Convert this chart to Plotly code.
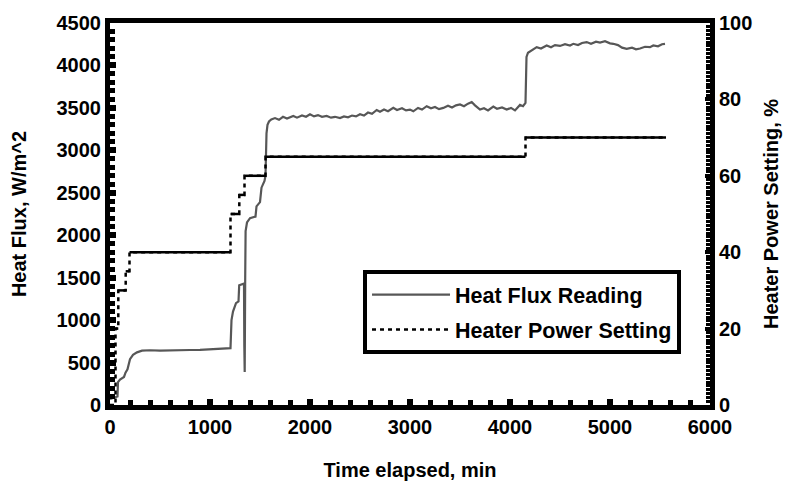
import plotly.graph_objects as go

# ---- data ----
flux_t = [0, 30, 60, 75, 80, 100, 140, 155, 175, 185, 200, 230, 270, 320, 400, 500, 600, 700, 800, 900,
          1000, 1100, 1190, 1205, 1215, 1230, 1260, 1285, 1292, 1340, 1343, 1347, 1352, 1356, 1370, 1400,
          1455, 1465, 1500, 1515, 1545, 1555, 1565, 1575, 1590, 1613, 1650, 1690, 1730, 1770, 1833, 1870,
          1920, 1960, 2000, 2040, 2080, 2120, 2167, 2210, 2250, 2300, 2340, 2380, 2420, 2460, 2500, 2540,
          2580, 2620, 2667, 2700, 2740, 2780, 2833, 2870, 2920, 2960, 3000, 3033, 3080, 3120, 3167, 3210,
          3250, 3290, 3333, 3380, 3420, 3460, 3500, 3540, 3580, 3617, 3650, 3700, 3740, 3780, 3833, 3870,
          3920, 3967, 4010, 4050, 4100, 4130, 4155, 4165, 4180, 4220, 4267, 4310, 4367, 4410, 4450, 4500,
          4550, 4600, 4633, 4680, 4720, 4767, 4810, 4860, 4900, 4950, 5000, 5033, 5080, 5120, 5167, 5220,
          5260, 5300, 5350, 5400, 5433, 5480, 5520, 5550]
flux_q = [70, 80, 90, 100, 270, 300, 330, 380, 420, 480, 540, 590, 620, 640, 645, 640, 645, 645, 648, 650,
          655, 660, 665, 670, 1000, 1100, 1200, 1220, 1410, 1430, 700, 390, 1500, 2050, 2150, 2200,
          2220, 2340, 2390, 2560, 2640, 2700, 3200, 3300, 3340, 3364, 3380, 3360, 3395, 3375, 3405, 3385,
          3410, 3395, 3425, 3400, 3415, 3395, 3405, 3385, 3395, 3380, 3400, 3390, 3410, 3400, 3425, 3410,
          3445, 3430, 3475, 3455, 3480, 3460, 3500, 3475, 3495, 3470, 3480, 3460, 3500, 3480, 3520, 3495,
          3510, 3485, 3500, 3525, 3505, 3530, 3540, 3520, 3550, 3570, 3530, 3480, 3495, 3470, 3515, 3490,
          3505, 3480, 3500, 3470, 3535, 3520, 3560, 4100, 4150, 4180, 4215, 4200, 4235, 4215, 4240, 4230,
          4250, 4235, 4255, 4240, 4265, 4275, 4255, 4280, 4270, 4285, 4260, 4255, 4240, 4210, 4196, 4210,
          4190, 4200, 4220, 4215, 4235, 4225, 4250, 4255]

heater_t = [0, 55, 83, 157, 195, 1205, 1293, 1345, 1555, 4155]
heater_pct = [0, 20, 30, 35, 40, 50, 55, 60, 65, 70]
heater_end = 5560

# step path (for the dashed series)
step_x = heater_t + [heater_end]
step_y = heater_pct + [heater_pct[-1]]

# horizontal plateaus drawn solid (as in the reference)
flat_x, flat_y = [], []
ends = heater_t[1:] + [heater_end]
for t0, t1, p in zip(heater_t, ends, heater_pct):
    if p > 0:
        flat_x += [t0, t1, None]
        flat_y += [p, p, None]

FONT = "Liberation Sans"
fig = go.Figure()
fig.add_trace(go.Scatter(x=flux_t, y=flux_q, mode="lines", name="Heat Flux Reading",
                         line=dict(color="#575757", width=2.2), legendgroup="a"))
fig.add_trace(go.Scatter(x=step_x, y=step_y, mode="lines", name="Heater Power Setting",
                         line=dict(color="black", width=2.5, dash="4px,4px", shape="hv"),
                         yaxis="y2", legendgroup="b"))
fig.add_trace(go.Scatter(x=flat_x, y=flat_y, mode="lines", showlegend=False,
                         line=dict(color="black", width=2.5), yaxis="y2", hoverinfo="skip"))

tick_font = dict(family=FONT, size=20, color="black", weight="bold")
title_font = dict(family=FONT, size=20, color="black", weight="bold")

fig.update_layout(
    width=795, height=493,
    margin=dict(l=110, r=85, t=17, b=88),
    plot_bgcolor="white", paper_bgcolor="white",
    showlegend=True,
    legend=dict(x=0.4217, y=0.353, xanchor="left", yanchor="top",
                bordercolor="black", borderwidth=4, bgcolor="white",
                font=dict(family=FONT, size=21.5, color="black", weight="bold"),
                traceorder="grouped", tracegroupgap=4, itemwidth=78),
    xaxis=dict(range=[0, 6000], dtick=1000, tick0=0, showgrid=False, zeroline=False,
               showline=True, linecolor="black", linewidth=5, mirror=True,
               ticks="inside", ticklen=6, tickwidth=6, tickcolor="black",
               minor=dict(dtick=200, ticks="inside", ticklen=5, tickwidth=5, tickcolor="black"),
               tickfont=tick_font,
               title=dict(text="Time elapsed, min", font=title_font, standoff=27)),
    yaxis=dict(range=[0, 4500], dtick=500, tick0=0, showgrid=False, zeroline=False,
               showline=True, linecolor="black", linewidth=5,
               ticks="inside", ticklen=6, tickwidth=6, tickcolor="black",
               minor=dict(dtick=100, ticks="inside", ticklen=5, tickwidth=5, tickcolor="black"),
               tickfont=tick_font,
               title=dict(text="Heat Flux, W/m^2", font=title_font, standoff=26)),
    yaxis2=dict(range=[0, 100], dtick=20, tick0=0, overlaying="y", side="right",
                showgrid=False, zeroline=False,
                showline=True, linecolor="black", linewidth=5,
                ticks="inside", ticklen=5, tickwidth=4, tickcolor="black",
                minor=dict(dtick=1, ticks="inside", ticklen=4, tickwidth=2.5, tickcolor="black"),
                tickfont=tick_font,
                title=dict(text="Heater Power Setting, %", font=title_font, standoff=14)),
)

fig.write_html("out.html")
